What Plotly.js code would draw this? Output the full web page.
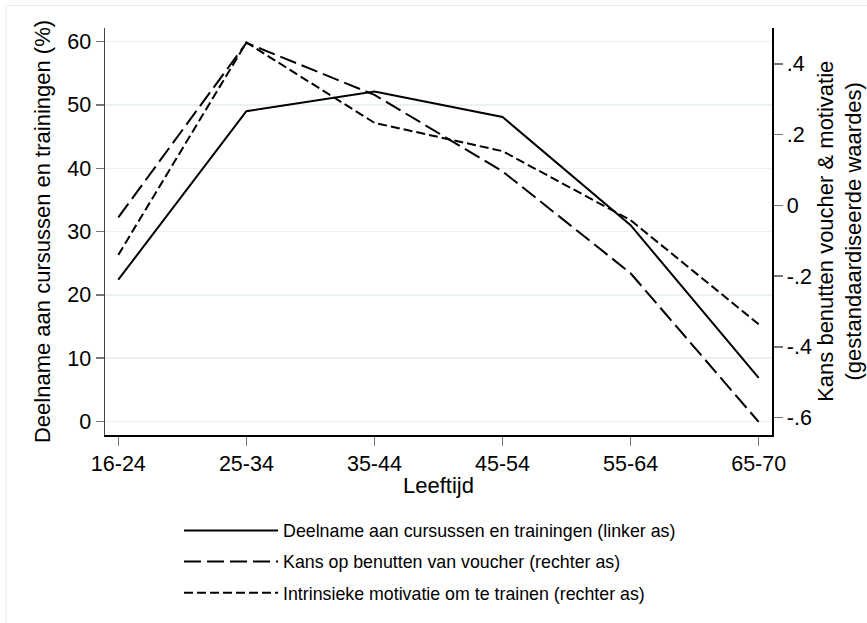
<!DOCTYPE html>
<html>
<head>
<meta charset="utf-8">
<script src="https://cdn.plot.ly/plotly-3.0.1.min.js"></script>
<style>html,body{margin:0;padding:0;background:#fff;}#chart{width:867px;height:623px;}</style>
</head>
<body>
<div id="chart"></div>
<script>
// Data
var ageGroups = ["16-24", "25-34", "35-44", "45-54", "55-64", "65-70"];
var participation = [22.4, 49.0, 52.1, 48.1, 31.0, 6.9];        // % (left axis)
var voucherChance = [-0.034, 0.459, 0.312, 0.096, -0.192, -0.612]; // standardised (right axis)
var motivation = [-0.140, 0.460, 0.233, 0.153, -0.042, -0.336];    // standardised (right axis)

var leftTicks = [0, 10, 20, 30, 40, 50, 60];
var rightTickVals = [0.4, 0.2, 0, -0.2, -0.4, -0.6];
var rightTickText = [".4", ".2", "0", "-.2", "-.4", "-.6"];

var names = [
  "Deelname aan cursussen en trainingen (linker as)",
  "Kans op benutten van voucher (rechter as)",
  "Intrinsieke motivatie om te trainen (rechter as)"
];
var rightTitle = "Kans benutten voucher &amp; motivatie<br>(gestandaardiseerde waardes)";

var font = "Liberation Sans, Arial, sans-serif";

var traces = [
  {x: ageGroups, y: participation, name: names[0], type: "scatter", mode: "lines",
   line: {color: "#000", width: 2}, yaxis: "y", legendgroup: "a"},
  {x: ageGroups, y: voucherChance, name: names[1], type: "scatter", mode: "lines",
   line: {color: "#000", width: 2, dash: "17px,6px"}, yaxis: "y2", legendgroup: "b"},
  {x: ageGroups, y: motivation, name: names[2], type: "scatter", mode: "lines",
   line: {color: "#000", width: 2, dash: "9px,4px"}, yaxis: "y2", legendgroup: "c"}
];

var layout = {
  width: 867, height: 623,
  margin: {l: 105, r: 95, t: 28, b: 185},
  paper_bgcolor: "#fff", plot_bgcolor: "#fff",
  font: {family: font, color: "#000", size: 21},
  showlegend: true,
  legend: {
    x: 0.111, y: -0.19, xanchor: "left", yanchor: "top",
    font: {family: font, size: 17.8, color: "#000"},
    itemwidth: 94, traceorder: "grouped", tracegroupgap: 5,
    bgcolor: "rgba(0,0,0,0)"
  },
  xaxis: {
    type: "category", range: [-0.104, 5.104],
    showline: true, linecolor: "#000", linewidth: 1.5,
    ticks: "outside", ticklen: 9, tickcolor: "#777", tickwidth: 1.5,
    showgrid: false, zeroline: false,
    tickfont: {family: font, size: 21.5, color: "#000"},
    title: {text: "Leeftijd", font: {family: font, size: 22, color: "#000"}, standoff: 2}
  },
  yaxis: {
    range: [-2.13, 62.15], tickvals: leftTicks,
    showline: true, linecolor: "#444", linewidth: 1.5,
    ticks: "outside", ticklen: 8, tickcolor: "#777", tickwidth: 1.5,
    showgrid: true, gridcolor: "#e9f1f3", gridwidth: 1.5, zeroline: false,
    tickfont: {family: font, size: 21.5, color: "#000"},
    title: {text: "Deelname aan cursussen en trainingen (%)", font: {family: font, size: 22, color: "#000"}, standoff: 10}
  },
  yaxis2: {
    overlaying: "y", side: "right",
    range: [-0.649, 0.501], tickvals: rightTickVals, ticktext: rightTickText,
    showline: true, linecolor: "#000", linewidth: 1.5,
    ticks: "outside", ticklen: 9, tickcolor: "#777", tickwidth: 1.5,
    showgrid: false, zeroline: false,
    tickfont: {family: font, size: 21.5, color: "#000"}
  },
  annotations: [
    {text: rightTitle, xref: "paper", yref: "paper", x: 1.101, y: 0.5,
     xanchor: "center", yanchor: "middle", textangle: -90, showarrow: false,
     font: {family: font, size: 22, color: "#000"}}
  ],
  shapes: [
    {type: "rect", xref: "paper", yref: "paper", x0: -0.1484, x1: 2, y0: -2, y1: 1.0554,
     line: {color: "#e6eded", width: 1}, fillcolor: "rgba(0,0,0,0)", layer: "below"}
  ]
};

Plotly.newPlot("chart", traces, layout, {displayModeBar: false, staticPlot: true});
</script>
</body>
</html>
